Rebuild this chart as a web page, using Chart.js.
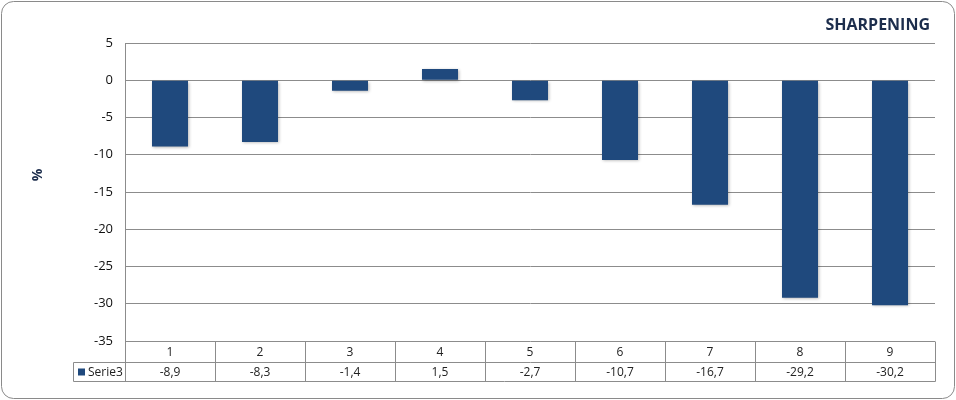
<!DOCTYPE html>
<html>
<head>
<meta charset="utf-8">
<script src="https://cdn.jsdelivr.net/npm/chart.js@4"></script>
<style>
  html, body { margin: 0; padding: 0; background: #fff; }
  #wrap { width: 956px; height: 400px; }
</style>
</head>
<body>
<div id="wrap"><canvas id="myChart" width="956" height="400"></canvas></div>
<script>
var categories = ['1', '2', '3', '4', '5', '6', '7', '8', '9'];
var serie3 = [-8.9, -8.3, -1.4, 1.5, -2.7, -10.7, -16.7, -29.2, -30.2];
var seriesName = 'Serie3';
var chartTitle = 'SHARPENING';
var axisLabel = '%';

var barColor = '#1f497d';
var lineColor = '#8c8c8c';
var font = '"Open Sans", "DejaVu Sans", sans-serif';

function fmt(v) {
    return v.toFixed(1).replace('.', ',');
}

// marco, titulo, etiqueta % y tabla de datos
var extras = {
    id: 'extras',
    beforeDatasetsDraw: function(chart) {
        var ctx = chart.ctx;
        ctx.save();
        ctx.shadowColor = 'rgba(0,0,0,0.3)';
        ctx.shadowBlur = 3;
        ctx.shadowOffsetX = 1;
        ctx.shadowOffsetY = 1;
    },
    afterDatasetsDraw: function(chart) {
        chart.ctx.restore();
    },
    afterDraw: function(chart) {
        var ctx = chart.ctx;
        var area = chart.chartArea;
        var x = chart.scales.x;
        ctx.save();

        // borde redondeado
        ctx.strokeStyle = '#8a8a8a';
        ctx.lineWidth = 1;
        ctx.beginPath();
        ctx.roundRect(1.5, 1.5, 953, 397, 12);
        ctx.stroke();

        // titulo
        ctx.fillStyle = '#1c2d4c';
        ctx.font = 'bold 16px ' + font;
        ctx.textAlign = 'right';
        ctx.textBaseline = 'middle';
        ctx.fillText(chartTitle, 930, 25);

        // etiqueta eje
        ctx.save();
        ctx.translate(38, 175);
        ctx.rotate(-Math.PI / 2);
        ctx.textAlign = 'center';
        ctx.font = 'bold 14px ' + font;
        ctx.fillStyle = '#1c2d4c';
        ctx.fillText(axisLabel, 0, 0);
        ctx.restore();

        // tabla
        var top = Math.round(area.bottom) + 0.5;
        var mid = top + 21;
        var bot = mid + 19;
        var left = Math.round(area.left) + 0.5;
        var right = Math.round(area.right) + 0.5;
        var legLeft = 73.5;
        ctx.strokeStyle = lineColor;
        ctx.lineWidth = 1;
        ctx.beginPath();
        ctx.moveTo(left, top); ctx.lineTo(left, bot);
        ctx.moveTo(left, mid); ctx.lineTo(right, mid);
        ctx.moveTo(legLeft, mid); ctx.lineTo(left, mid);
        ctx.moveTo(legLeft, mid); ctx.lineTo(legLeft, bot);
        ctx.moveTo(legLeft, bot); ctx.lineTo(right, bot);
        ctx.moveTo(right, top); ctx.lineTo(right, bot);
        var w = (area.right - area.left) / categories.length;
        for (var i = 1; i < categories.length; i++) {
            var lx = Math.round(area.left + w * i) + 0.5;
            ctx.moveTo(lx, top); ctx.lineTo(lx, bot);
        }
        ctx.stroke();

        ctx.fillStyle = '#222';
        ctx.font = '12px ' + font;
        ctx.textAlign = 'center';
        ctx.textBaseline = 'middle';
        for (var j = 0; j < categories.length; j++) {
            var cx = x.getPixelForValue(j);
            ctx.fillText(categories[j], cx, (top + mid) / 2 + 1);
            ctx.fillText(fmt(serie3[j]), cx, (mid + bot) / 2 + 1);
        }
        ctx.fillStyle = barColor;
        ctx.fillRect(78, mid + 6, 7, 7);
        ctx.fillStyle = '#222';
        ctx.textAlign = 'left';
        ctx.fillText(seriesName, 88, (mid + bot) / 2 + 1);
        ctx.restore();
    }
};

var ctx = document.getElementById('myChart');
new Chart(ctx, {
    type: 'bar',
    data: {
        labels: categories,
        datasets: [{
            label: seriesName,
            data: serie3,
            backgroundColor: barColor,
            borderWidth: 0,
            barPercentage: 0.4,
            categoryPercentage: 1
        }]
    },
    options: {
        responsive: false,
        animation: false,
        layout: { padding: { left: 0, top: 43, right: 21, bottom: 0 } },
        plugins: {
            legend: { display: false },
            tooltip: { enabled: false }
        },
        scales: {
            x: {
                grid: { display: false },
                border: { display: false },
                ticks: { display: false },
                afterFit: function(s) { s.height = 59; }
            },
            y: {
                min: -35,
                max: 5,
                ticks: {
                    stepSize: 5,
                    color: '#111',
                    padding: 12,
                    font: { family: font, size: 13 }
                },
                grid: { color: lineColor, drawTicks: false },
                border: { display: true, color: lineColor },
                afterFit: function(s) { s.width = 125; }
            }
        }
    },
    plugins: [extras]
});
</script>
</body>
</html>
